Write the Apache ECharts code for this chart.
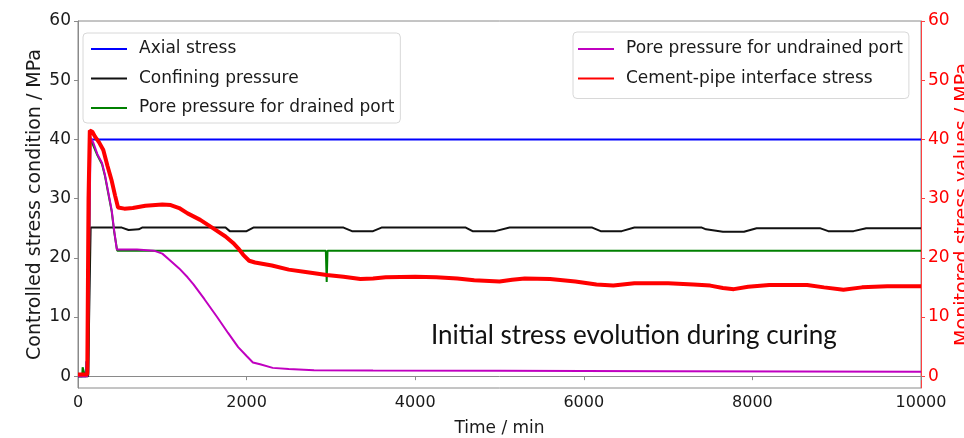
<!DOCTYPE html>
<html>
<head>
<meta charset="utf-8">
<script src="https://cdn.jsdelivr.net/npm/echarts@6/dist/echarts.min.js"></script>
<style>
html,body{margin:0;padding:0;background:#fff;}
#c{width:964px;height:438px;}
</style>
</head>
<body>
<div id="c"></div>
<script>
// ---- Data (time in min, values in MPa) ----
var xTicks = [0, 2000, 4000, 6000, 8000, 10000];
var yTicks = [0, 10, 20, 30, 40, 50, 60];

var axialT = [0, 95, 100, 115, 120, 140, 10000];
var axialV = [0, 0, 2.5, 2.5, 0.5, 40, 40];

var confT = [0, 120, 150, 520, 600, 720, 760, 1750, 1800, 2000, 2080, 3150, 3250, 3500, 3600, 4600, 4680, 4950, 5120, 6100, 6200, 6450, 6600, 7400, 7450, 7650, 7900, 8050, 8800, 8900, 9200, 9350, 10000];
var confV = [0, 0, 25.1, 25.1, 24.7, 24.8, 25.1, 25.1, 24.5, 24.5, 25.1, 25.1, 24.5, 24.5, 25.1, 25.1, 24.5, 24.5, 25.1, 25.1, 24.5, 24.5, 25.1, 25.1, 24.8, 24.4, 24.4, 25.0, 25.0, 24.5, 24.5, 25.0, 25.0];

var drainT = [0, 50, 55, 75, 80, 120, 145, 180, 230, 285, 320, 360, 400, 430, 465, 1000, 2000, 2940, 2950, 2960, 4000, 6000, 8000, 10000];
var drainV = [0, 0, 1.5, 1.5, 0.2, 0.2, 40, 39.0, 37.3, 35.8, 33.8, 30.8, 27.8, 24.3, 21.2, 21.2, 21.2, 21.2, 15.9, 21.2, 21.2, 21.2, 21.2, 21.2];

var undrT = [0, 110, 130, 150, 180, 230, 285, 320, 360, 400, 430, 460, 500, 700, 900, 1000, 1090, 1200, 1300, 1370, 1500, 1650, 1780, 1900, 2000, 2075, 2160, 2310, 2500, 2800, 3500, 5000, 7000, 10000];
var undrV = [0, 0, 20, 40.3, 39.5, 37.5, 36, 34, 31, 28, 24.5, 21.4, 21.4, 21.4, 21.2, 20.7, 19.6, 18.2, 16.7, 15.5, 13, 10, 7.3, 4.9, 3.4, 2.3, 2.0, 1.4, 1.2, 1.0, 0.95, 0.9, 0.85, 0.75];

var ifaceT = [0, 110, 125, 140, 170, 200, 250, 300, 350, 400, 440, 475, 550, 650, 800, 1000, 1100, 1200, 1300, 1450, 1600, 1750, 1840, 1900, 1960, 2030, 2100, 2300, 2500, 2700, 2950, 3150, 3350, 3500, 3650, 4000, 4250, 4500, 4700, 5000, 5150, 5300, 5600, 5900, 6150, 6350, 6600, 7000, 7300, 7500, 7650, 7780, 7950, 8200, 8650, 8850, 9080, 9300, 9600, 10000];
var ifaceV = [0.3, 0.3, 30, 41.5, 41.3, 40.5, 39.5, 38.2, 35.5, 33, 30.5, 28.5, 28.3, 28.4, 28.8, 29.0, 28.9, 28.4, 27.5, 26.4, 25.0, 23.6, 22.5, 21.6, 20.5, 19.5, 19.2, 18.7, 18.0, 17.6, 17.1, 16.8, 16.4, 16.5, 16.7, 16.8, 16.7, 16.5, 16.2, 16.0, 16.3, 16.5, 16.4, 16.0, 15.5, 15.3, 15.7, 15.7, 15.5, 15.3, 14.9, 14.7, 15.1, 15.4, 15.4, 15.0, 14.6, 15.0, 15.2, 15.2];

function pairs(t, v) { return t.map(function (x, i) { return [x, v[i]]; }); }

var FONT = 'DejaVu Sans';
var chart = echarts.init(document.getElementById('c'), null, {renderer: 'canvas'});

function lineSeries(name, t, v, color, width, yIdx) {
  return {
    name: name, type: 'line', data: pairs(t, v), yAxisIndex: yIdx || 0,
    showSymbol: false, symbol: 'none', animation: false,
    lineStyle: {color: color, width: width}, itemStyle: {color: color}
  };
}

var legendCommon = {
  orient: 'vertical', icon: 'rect', itemWidth: 36, itemHeight: 2, itemGap: 9.5,
  backgroundColor: '#fff', borderColor: '#d8d8d8', borderWidth: 1, borderRadius: 4,
  textStyle: {fontFamily: FONT, fontSize: 17, color: '#1a1a1a', lineHeight: 20, padding: [0, 0, 0, 7]},
  selectedMode: false
};

var option = {
  animation: false,
  backgroundColor: '#fff',
  grid: {left: 78, right: 43, top: 21, bottom: 50, outerBoundsMode: 'none', containLabel: false,
    show: true, borderColor: '#8a8a8a', borderWidth: 1, backgroundColor: 'transparent'},
  xAxis: {
    type: 'value', min: 0, max: 10000, interval: 2000,
    name: 'Time / min', nameLocation: 'middle', nameGap: 32, nameMoveOverlap: false,
    nameTextStyle: {fontFamily: FONT, fontSize: 17, color: '#1a1a1a'},
    axisLine: {show: true, lineStyle: {color: '#8a8a8a'}},
    axisTick: {show: true, length: 4, lineStyle: {color: '#8a8a8a'}},
    axisLabel: {fontFamily: FONT, fontSize: 16, color: '#1a1a1a', margin: 7, formatter: function (v) { return String(v); }},
    splitLine: {show: false}
  },
  yAxis: [{
    type: 'value', min: -2, max: 60, position: 'left',
    name: 'Controlled stress condition / MPa', nameLocation: 'middle', nameGap: 33, nameMoveOverlap: false,
    nameTextStyle: {fontFamily: FONT, fontSize: 19, color: '#1a1a1a'},
    axisLine: {show: true, onZero: false, lineStyle: {color: '#8a8a8a'}},
    axisTick: {show: true, length: 4, customValues: yTicks, lineStyle: {color: '#8a8a8a'}},
    axisLabel: {fontFamily: FONT, fontSize: 17, color: '#1a1a1a', margin: 7, customValues: yTicks},
    splitLine: {show: false}
  }, {
    type: 'value', min: -2, max: 60, position: 'right',
    name: 'Monitored stress values / MPa', nameLocation: 'middle', nameGap: 33, nameRotate: 90, nameMoveOverlap: false,
    nameTextStyle: {fontFamily: FONT, fontSize: 19, color: '#ff0000'},
    axisLine: {show: true, onZero: false, lineStyle: {color: '#ff4040'}},
    axisTick: {show: true, length: 4, customValues: yTicks, lineStyle: {color: '#ff4040'}},
    axisLabel: {fontFamily: FONT, fontSize: 17, color: '#ff0000', margin: 7, customValues: yTicks},
    splitLine: {show: false}
  }],
  legend: [
    Object.assign({}, legendCommon, {left: 83, top: 33, padding: [6, 6, 5, 8],
      data: ['Axial stress', 'Confining pressure', 'Pore pressure for drained port']}),
    Object.assign({}, legendCommon, {left: 573, top: 32, padding: [7, 6, 10, 5],
      data: ['Pore pressure for undrained port', 'Cement-pipe interface stress']})
  ],
  graphic: [{
    type: 'text', left: 431, top: 323,
    style: {text: 'Initial stress evolution during curing', font: '26px Lato', fill: '#111'}
  }],
  series: [
    lineSeries('Axial stress', axialT, axialV, '#0000ff', 2),
    lineSeries('Confining pressure', confT, confV, '#111111', 2),
    lineSeries('Pore pressure for drained port', drainT, drainV, '#008000', 2),
    lineSeries('Pore pressure for undrained port', undrT, undrV, '#c000c0', 2),
    lineSeries('Cement-pipe interface stress', ifaceT, ifaceV, '#ff0000', 4, 1)
  ]
};
chart.setOption(option);
</script>
</body>
</html>
